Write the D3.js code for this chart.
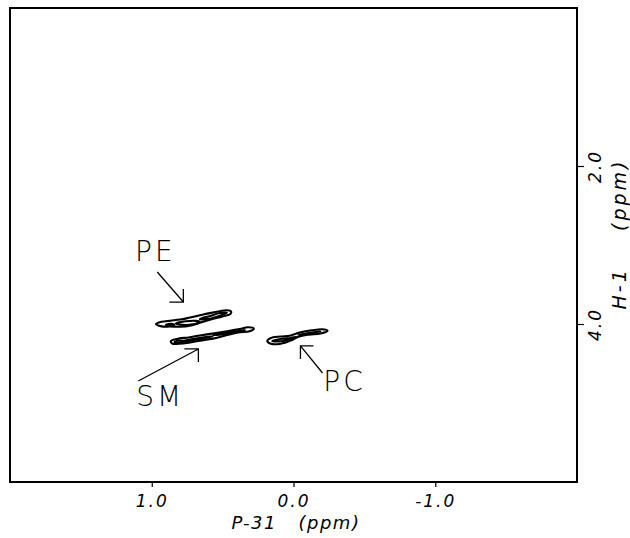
<!DOCTYPE html>
<html>
<head>
<meta charset="utf-8">
<script src="https://cdn.jsdelivr.net/npm/d3@7"></script>
<style>
  body { margin: 0; background: #fff; overflow: hidden; }
  svg { display: block; }
  .lbl { font-family: "DejaVu Sans", "Liberation Sans", sans-serif; fill: #000; }
</style>
</head>
<body>
<div id="chart"></div>
<script>
// axis ticks
const xTicks = [1.0, 0.0, -1.0];
const xTickLabels = ['1.0', '0.0', '-1.0'];
const yTicks = [2.0, 4.0];
const yTickLabels = ['2.0', '4.0'];

// contour outlines, [P-31 ppm, H-1 ppm]
const peContours = [
    [[0.97, 4.00], [0.93, 3.972], [0.87, 3.958], [0.80, 3.944], [0.73, 3.918], [0.66, 3.890],
     [0.59, 3.862], [0.52, 3.838], [0.47, 3.826], [0.44, 3.842], [0.445, 3.873], [0.50, 3.905],
     [0.59, 3.945], [0.66, 3.985], [0.73, 4.022], [0.80, 4.035], [0.87, 4.032], [0.93, 4.030]],
    [[0.83, 3.990], [0.76, 3.965], [0.69, 3.960], [0.66, 3.975], [0.71, 4.005], [0.80, 4.008]],
    [[0.66, 3.937], [0.59, 3.899], [0.52, 3.861], [0.47, 3.858], [0.53, 3.902], [0.62, 3.942]],
    [[0.90, 4.010], [0.86, 3.998], [0.84, 4.012], [0.88, 4.020]]
];
const smContours = [
    [[0.865, 4.215], [0.81, 4.185], [0.74, 4.170], [0.66, 4.145], [0.57, 4.120], [0.48, 4.094],
     [0.39, 4.068], [0.32, 4.042], [0.28, 4.058], [0.31, 4.092], [0.39, 4.108], [0.48, 4.146],
     [0.57, 4.185], [0.66, 4.212], [0.74, 4.238], [0.81, 4.250], [0.855, 4.248]],
    [[0.80, 4.222], [0.73, 4.196], [0.62, 4.165], [0.57, 4.158], [0.645, 4.19], [0.73, 4.215]],
    [[0.57, 4.139], [0.48, 4.114], [0.39, 4.089], [0.34, 4.076], [0.41, 4.101], [0.50, 4.133]],
    [[0.84, 4.228], [0.80, 4.208], [0.77, 4.222], [0.81, 4.240]]
];
const pcContours = [
    [[0.185, 4.215], [0.15, 4.172], [0.09, 4.158], [0.02, 4.145], [-0.05, 4.106], [-0.13, 4.080],
     [-0.20, 4.066], [-0.24, 4.085], [-0.19, 4.120], [-0.11, 4.134], [-0.035, 4.160], [0.02, 4.210],
     [0.09, 4.250], [0.16, 4.250]],
    [[0.15, 4.215], [0.09, 4.19], [0.02, 4.177], [-0.02, 4.165], [0.035, 4.203], [0.105, 4.222]],
    [[-0.035, 4.139], [-0.085, 4.12], [-0.155, 4.101], [-0.19, 4.095], [-0.12, 4.114], [-0.065, 4.133]]
];

// peak labels and arrows
const peakLabels = ['PE', 'SM', 'PC'];
const labelPos = [[0.975, 3.076], [0.94, 4.924], [-0.36, 4.734]];
const arrowFrom = [[0.961, 3.342], [1.095, 4.722], [-0.205, 4.62]];
const arrowTip = [[0.777, 3.722], [0.671, 4.316], [-0.049, 4.278]];
// arrowhead arm directions in px (dx, dy) for the two arms
const arrowArms = [[[-14, 0], [0, -13]], [[-14, 0], [0, 13]], [[13, 0], [0, 13]]];

const W = 630, H = 538;
const m = { left: 10, top: 8, right: 53, bottom: 56 };

const svg = d3.select('#chart').append('svg')
    .attr('width', W)
    .attr('height', H);

const x = d3.scaleLinear().domain([2.0, -2.0]).range([m.left, W - m.right]);
const y = d3.scaleLinear().domain([0, 6.0]).range([m.top, H - m.bottom]);

// frame
svg.append('rect')
    .attr('x', x.range()[0])
    .attr('y', y.range()[0])
    .attr('width', x.range()[1] - x.range()[0])
    .attr('height', y.range()[1] - y.range()[0])
    .attr('fill', 'none')
    .attr('stroke', '#000')
    .attr('stroke-width', 2);

// bottom axis
const gx = svg.append('g')
    .attr('transform', `translate(0,${y.range()[1]})`)
    .call(d3.axisBottom(x)
        .tickValues(xTicks)
        .tickSize(5)
        .tickFormat((d, i) => xTickLabels[i]));
gx.select('.domain').remove();
gx.selectAll('.tick line').attr('stroke', '#000').attr('stroke-width', 1.2);
gx.selectAll('.tick text')
    .attr('class', 'lbl')
    .attr('y', 13)
    .attr('font-size', 17)
    .attr('font-style', 'italic')
    .attr('letter-spacing', 2);

// right axis
const gy = svg.append('g')
    .attr('transform', `translate(${x.range()[1]},0)`)
    .call(d3.axisRight(y)
        .tickValues(yTicks)
        .tickSize(7)
        .tickFormat((d, i) => yTickLabels[i]));
gy.select('.domain').remove();
gy.selectAll('.tick line').attr('stroke', '#000').attr('stroke-width', 1.2);
gy.selectAll('.tick text')
    .attr('class', 'lbl')
    .attr('x', 0)
    .attr('dy', 0)
    .attr('transform', 'translate(19,0) rotate(-90)')
    .attr('text-anchor', 'middle')
    .attr('dominant-baseline', 'middle')
    .attr('font-size', 17)
    .attr('font-style', 'italic')
    .attr('letter-spacing', 2);

// axis titles
svg.append('text')
    .attr('class', 'lbl')
    .attr('x', 296)
    .attr('y', 529)
    .attr('text-anchor', 'middle')
    .attr('font-size', 18)
    .attr('font-style', 'italic')
    .attr('letter-spacing', 1.5)
    .attr('xml:space', 'preserve')
    .text('P-31   (ppm)');

svg.append('text')
    .attr('class', 'lbl')
    .attr('transform', 'translate(620,234) rotate(-90)')
    .attr('text-anchor', 'middle')
    .attr('dominant-baseline', 'middle')
    .attr('font-size', 19)
    .attr('font-style', 'italic')
    .attr('letter-spacing', 3)
    .attr('xml:space', 'preserve')
    .text('H-1    (ppm)');

// contours
const line = d3.line()
    .x(d => x(d[0]))
    .y(d => y(d[1]))
    .curve(d3.curveCatmullRomClosed.alpha(0.5));

const allContours = [].concat(peContours, smContours, pcContours);
svg.append('g')
    .selectAll('path')
    .data(allContours)
    .join('path')
    .attr('d', line)
    .attr('fill', 'none')
    .attr('stroke', '#000')
    .attr('stroke-width', 2.1);

// arrows
const ga = svg.append('g')
    .attr('stroke', '#000')
    .attr('stroke-width', 1.3)
    .attr('fill', 'none');

ga.selectAll('path')
    .data(peakLabels)
    .join('path')
    .attr('d', (d, i) => {
        const x0 = x(arrowFrom[i][0]), y0 = y(arrowFrom[i][1]);
        const x1 = x(arrowTip[i][0]), y1 = y(arrowTip[i][1]);
        const a = arrowArms[i];
        return `M${x0},${y0}L${x1},${y1}` +
            `M${x1 + a[0][0]},${y1 + a[0][1]}L${x1},${y1}L${x1 + a[1][0]},${y1 + a[1][1]}`;
    });

// peak labels
svg.append('g')
    .selectAll('text')
    .data(peakLabels)
    .join('text')
    .attr('class', 'lbl')
    .attr('x', (d, i) => x(labelPos[i][0]))
    .attr('y', (d, i) => y(labelPos[i][1]))
    .attr('text-anchor', 'middle')
    .attr('dominant-baseline', 'central')
    .attr('font-size', 28)
    .attr('font-weight', 200)
    .attr('letter-spacing', 3)
    .text(d => d);
</script>
</body>
</html>
